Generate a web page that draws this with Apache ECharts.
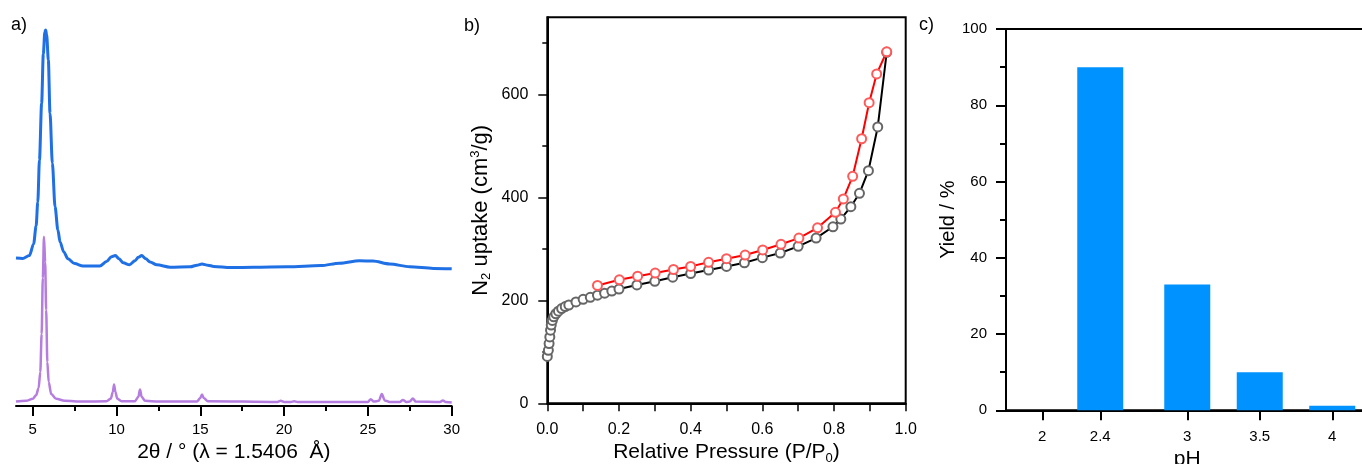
<!DOCTYPE html>
<html><head><meta charset="utf-8">
<script src="https://cdn.jsdelivr.net/npm/echarts@6/dist/echarts.min.js"></script>
<style>html,body{margin:0;padding:0;background:#fff}#c{width:1362px;height:464px}</style>
</head><body><div id="c"></div><script>
const FONT = "'Liberation Sans', Arial, sans-serif";

// ---------- Panel a: PXRD ----------
const xrdTickLabels = [5, 10, 15, 20, 25, 30];
const xrdMinorTicks = [7.5, 12.5, 17.5, 22.5, 27.5];
const xrdExperimental = [
  [4.0,37],[4.4,36.9],[4.8,37.6],[5.05,40.5],[5.2,45],[5.3,51],[5.4,61.5],[5.53,75.7],[5.63,88],
  [5.72,93.5],[5.77,94],[5.83,92.8],[5.93,86.5],[6.03,73.2],[6.17,60.7],[6.33,49.8],[6.5,44],
  [6.63,41],[6.85,38.5],[7.1,36.8],[7.5,35.6],[8.0,35],[9.0,35],[9.4,36.1],[9.7,37.3],[9.93,37.6],
  [10.15,36.8],[10.4,35.8],[10.77,35.3],[11.1,36.3],[11.3,37.2],[11.5,37.6],[11.75,36.8],[12.0,36],
  [12.4,35.3],[13.2,34.7],[14.4,34.8],[14.8,35.2],[15.1,35.5],[15.45,35.2],[15.8,34.9],[16.8,34.6],
  [18.2,34.7],[20.2,34.8],[22.2,35.1],[23.3,35.7],[24.5,36.3],[25.3,36.25],[26.3,35.5],[27.5,34.8],
  [28.9,34.4],[30.0,34.3]
];
const xrdSimulated = [
  [4.0,1.1],[4.6,1.3],[5.0,1.8],[5.2,2.7],[5.35,4.5],[5.45,8.5],[5.53,18],[5.6,32],[5.67,42.3],
  [5.74,36],[5.8,24],[5.87,11],[5.95,6],[6.1,3],[6.4,1.8],[6.9,1.3],[8.0,1.1],[9.4,1.2],[9.65,1.8],
  [9.78,3.5],[9.85,5.4],[9.93,3.5],[10.05,1.8],[10.3,1.2],[11.1,1.2],[11.3,2.3],[11.4,4.1],[11.5,2.3],
  [11.7,1.3],[12.5,1.1],[14.8,1.1],[15.0,2.0],[15.1,2.9],[15.2,2.0],[15.45,1.2],[19.6,1.0],[19.8,1.3],
  [20.0,1.0],[20.4,1.0],[20.6,1.2],[20.8,1.0],[25.0,1.0],[25.17,1.7],[25.35,1.1],[25.65,1.3],
  [25.83,3.0],[26.0,1.4],[26.3,1.0],[26.9,1.0],[27.09,1.5],[27.3,1.0],[27.5,1.1],[27.68,1.9],
  [27.85,1.1],[29.3,1.0],[29.47,1.4],[29.65,1.0],[30.0,0.9]
];

// ---------- Panel b: N2 isotherm ----------
const isoYTicks = [0, 200, 400, 600];
const isoYMinorTicks = [100, 300, 500, 700];
const isoAdsorption = [
  [0.000,91],[0.003,103],[0.005,116],[0.007,129],[0.009,142],[0.011,152],[0.014,161],[0.018,168],
  [0.024,174],[0.031,179],[0.040,184],[0.050,188],[0.060,191],[0.080,197],[0.100,202],[0.120,206],
  [0.140,210],[0.160,214],[0.180,218],[0.200,222],[0.250,230],[0.300,237],[0.350,245],[0.400,252],
  [0.450,259],[0.500,266],[0.550,273],[0.600,283],[0.650,292],[0.700,305],[0.750,321],[0.797,343],
  [0.819,358],[0.847,382],[0.871,408],[0.896,452],[0.922,537],[0.947,682]
];
const isoDesorption = [
  [0.140,229],[0.201,240],[0.252,247],[0.301,253],[0.352,260],[0.400,266],[0.450,274],[0.500,281],
  [0.552,288],[0.601,298],[0.652,309],[0.702,321],[0.754,341],[0.804,371],[0.826,397],[0.852,441],
  [0.877,514],[0.898,584],[0.919,640],[0.947,683]
];

// ---------- Panel c: yield vs pH ----------
const pHValues = [2, 2.4, 3, 3.5, 4];
const yieldPercent = [0, 90, 33, 10, 1.2];

const black = '#000';
const txt = {color: black, fontFamily: FONT};

const chart = echarts.init(document.getElementById('c'), null, {renderer: 'canvas'});
chart.setOption({
  animation: false,
  backgroundColor: '#fff',
  textStyle: {fontFamily: FONT},
  graphic: [
    {type: 'text', left: 11, top: 16, style: {text: 'a)', font: '18px ' + FONT, fill: black}},
    {type: 'text', left: 464, top: 17, style: {text: 'b)', font: '18px ' + FONT, fill: black}},
    {type: 'text', left: 919, top: 16, style: {text: 'c)', font: '18px ' + FONT, fill: black}}
  ],
  grid: [
    {left: 16, top: 6, width: 435.7, height: 400, outerBoundsMode: 'none', containLabel: false},
    {left: 547.3, top: 17.3, width: 358.4, height: 386, show: true, borderColor: black, borderWidth: 2,
     outerBoundsMode: 'none', containLabel: false},
    {left: 1006, top: 29, width: 362.5, height: 381.3, show: true, borderColor: black, borderWidth: 2,
     outerBoundsMode: 'none', containLabel: false}
  ],
  xAxis: [
    {gridIndex: 0, type: 'value', min: 4, max: 30, position: 'bottom',
     axisLine: {lineStyle: {color: black, width: 2}},
     axisTick: {customValues: xrdTickLabels, length: 10, lineStyle: {color: black, width: 2}},
     axisLabel: {customValues: xrdTickLabels, margin: 16, fontSize: 15, ...txt},
     splitLine: {show: false},
     name: '2θ / ° (λ = 1.5406  Å)', nameLocation: 'middle', nameGap: 32,
     nameTextStyle: {fontSize: 21, ...txt}},
    {gridIndex: 0, type: 'value', min: 4, max: 30, position: 'bottom', offset: 0,
     axisLine: {show: false},
     axisTick: {customValues: xrdMinorTicks, length: 5, lineStyle: {color: black, width: 2}},
     axisLabel: {show: false}, splitLine: {show: false}},
    {gridIndex: 1, type: 'value', min: 0, max: 1, interval: 0.2, position: 'bottom',
     axisLine: {lineStyle: {color: black, width: 2}},
     axisTick: {length: 8, lineStyle: {color: black, width: 1.5}},
     minorTick: {show: true, splitNumber: 2, length: 8, lineStyle: {color: black, width: 1.5}},
     axisLabel: {margin: 18, fontSize: 16, formatter: v => v.toFixed(1), ...txt},
     splitLine: {show: false},
     name: '{t|Relative Pressure (P/P}{sub|0}{t|)}', nameLocation: 'middle', nameGap: 36,
     nameTextStyle: {fontSize: 21, ...txt, rich: {
       t: {fontSize: 21, fontFamily: FONT, color: black},
       sub: {fontSize: 13, fontFamily: FONT, color: black, verticalAlign: 'bottom', padding: [11, 0, 0, 0]}}}},
    {gridIndex: 2, type: 'value', min: 1.75, max: 4.25, position: 'bottom',
     axisLine: {lineStyle: {color: black, width: 2}},
     axisTick: {customValues: pHValues, length: 10, lineStyle: {color: black, width: 2}},
     axisLabel: {customValues: pHValues, margin: 19, fontSize: 15, ...txt},
     splitLine: {show: false},
     name: 'pH', nameLocation: 'middle', nameGap: 35,
     nameTextStyle: {fontSize: 21, ...txt}}
  ],
  yAxis: [
    {gridIndex: 0, type: 'value', min: 0, max: 100, show: false},
    {gridIndex: 1, type: 'value', min: 0, max: 750, position: 'left',
     axisLine: {show: true, lineStyle: {color: black, width: 2}},
     axisTick: {show: true, customValues: isoYTicks, length: 9, lineStyle: {color: black, width: 1.5}},
     axisLabel: {customValues: isoYTicks, margin: 19, fontSize: 16, ...txt},
     splitLine: {show: false},
     name: '{t|N}{sub|2}{t| uptake (cm}{sup|3}{t|/g)}', nameLocation: 'middle', nameGap: 54,
     nameTextStyle: {fontSize: 22, ...txt, rich: {
       t: {fontSize: 22, fontFamily: FONT, color: black},
       sub: {fontSize: 13, fontFamily: FONT, color: black, verticalAlign: 'bottom', padding: [11, 0, 0, 0]},
       sup: {fontSize: 13, fontFamily: FONT, color: black, verticalAlign: 'top', padding: [0, 0, 11, 0]}}}},
    {gridIndex: 1, type: 'value', min: 0, max: 750, position: 'left', offset: 0,
     axisLine: {show: false},
     axisTick: {show: true, customValues: isoYMinorTicks, length: 5, lineStyle: {color: black, width: 1.5}},
     axisLabel: {show: false}, splitLine: {show: false}},
    {gridIndex: 2, type: 'value', min: 0, max: 100, interval: 20, position: 'left',
     axisLine: {show: true, lineStyle: {color: black, width: 2}},
     axisTick: {show: true, length: 10, lineStyle: {color: black, width: 2}},
     minorTick: {show: true, splitNumber: 2, length: 6, lineStyle: {color: black, width: 2}},
     axisLabel: {margin: 19, fontSize: 15, ...txt},
     splitLine: {show: false},
     name: 'Yield / %', nameLocation: 'middle', nameGap: 39,
     nameTextStyle: {fontSize: 20, ...txt}}
  ],
  series: [
    {type: 'line', xAxisIndex: 0, yAxisIndex: 0, data: xrdSimulated, showSymbol: false,
     smooth: 0.3, smoothMonotone: 'x', lineStyle: {color: '#b57ddf', width: 2.5}},
    {type: 'line', xAxisIndex: 0, yAxisIndex: 0, data: xrdExperimental, showSymbol: false,
     smooth: 0.3, smoothMonotone: 'x', lineStyle: {color: '#1f6fe5', width: 3}},
    {type: 'line', xAxisIndex: 2, yAxisIndex: 1, data: isoAdsorption, symbol: 'emptyCircle', symbolSize: 9,
     lineStyle: {color: '#000', width: 2}, itemStyle: {color: '#666', borderWidth: 1}},
    {type: 'line', xAxisIndex: 2, yAxisIndex: 1, data: isoDesorption, symbol: 'emptyCircle', symbolSize: 9,
     lineStyle: {color: '#ff0000', width: 2}, itemStyle: {color: '#ff5a5a', borderWidth: 1}},
    {type: 'bar', xAxisIndex: 3, yAxisIndex: 3, barWidth: 46,
     data: pHValues.map((p, i) => [p, yieldPercent[i]]),
     itemStyle: {color: '#0092ff'}}
  ]
});
</script></body></html>
